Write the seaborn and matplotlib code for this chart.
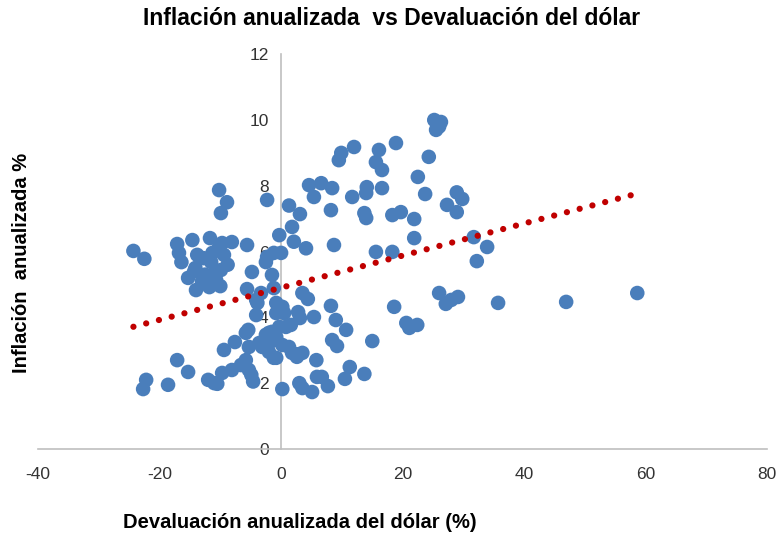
import numpy as np
import pandas as pd
import matplotlib
matplotlib.use("Agg")
import matplotlib.pyplot as plt
import seaborn as sns

# Devaluación anualizada del dólar (%)
devaluacion = [
    -24.3, -22.5, -17.1, -14.6, -11.7, -9.7, -8.1, -5.6, -16.8, -16.4,
    -14.1, -15.3, -14.0, -11.8, -10.7, -9.9, -11.3, -9.4, -10.2, -11.5,
    -4.8, -2.5, -1.2, -1.5, -5.6, -4.1, -2.3, -12.5, -13.0, -10.0,
    -12.8, -8.8, -13.8, -11.0, -14.3,
    -10.2, -8.9, -9.9, -2.3,
    -0.3, 1.8, 2.1, 4.1, 8.7, 1.3, 3.1, 0.0,
    4.6, 6.6, 5.4, 8.4, 8.2, 11.7, 14.1, 14.0, 16.6, 13.7,
    14.0, 18.3, 19.7, 21.9, 22.5, 23.7, 28.9, 29.8, 27.3, 28.9,
    21.9, 15.6, 18.3, 31.7, 33.9, 32.2, 9.5, 9.9, 12.0, 16.1,
    15.6, 16.6, 18.9, 24.3, 25.2, 26.3, 25.5, 26.0,
    26.0, 27.1, 28.0, 29.1, 35.7, 46.9, 58.6, 18.6, 20.6, 21.1, 22.4,
    3.5, 4.4, 8.2, 2.8, 3.1, 5.4, 9.0, 10.7, 8.4, 9.2,
    15.0, 3.5, 2.5, 5.8, 11.3, 10.5, 13.7, 0.2, 3.0, 3.5,
    5.1, 5.9, 6.7, 7.7,
    -3.3, -1.2, -0.8, 0.2, 0.5, -2.0, -0.8, 0.8, 1.6, -3.1,
    -2.0, 0.2, 1.3, -1.2, 1.8, 2.6,
    -17.1, -15.3, -22.2, -22.7, -18.6, -12.0, -10.5, -9.7, -8.1, -6.6,
    -5.3, -4.9, -5.8, -9.4, -7.6, -5.8, -5.4, -5.3, -3.6, -2.5,
    -1.5, -0.8, -0.3, -4.1, -3.9, -0.8, -2.0, -0.8, -11.0, -4.6,
]

# Inflación anualizada %
inflacion = [
    6.02, 5.78, 6.23, 6.35, 6.41, 6.26, 6.29, 6.20, 5.96, 5.68,
    5.50, 5.20, 4.83, 4.92, 5.14, 5.44, 5.96, 5.90, 6.14, 5.68,
    5.38, 5.68, 5.96, 5.29, 4.86, 4.53, 5.84, 5.30, 5.10, 4.95,
    5.80, 5.60, 5.90, 5.30, 5.40,
    7.87, 7.50, 7.17, 7.57,
    6.50, 6.75, 6.30, 6.10, 6.20, 7.40, 7.14, 5.96,
    8.02, 8.08, 7.66, 7.93, 7.26, 7.66, 7.96, 7.78, 7.93, 7.17,
    7.02, 7.11, 7.20, 6.99, 8.27, 7.75, 7.80, 7.60, 7.42, 7.20,
    6.41, 5.99, 5.99, 6.44, 6.14, 5.71, 8.78, 9.00, 9.18, 9.09,
    8.72, 8.48, 9.30, 8.88, 10.00, 9.94, 9.70, 9.80,
    4.74, 4.41, 4.53, 4.62, 4.44, 4.47, 4.74, 4.32, 3.83, 3.68, 3.77,
    4.74, 4.56, 4.35, 4.16, 3.98, 4.01, 3.92, 3.62, 3.31, 3.13,
    3.28, 2.92, 2.88, 2.70, 2.49, 2.13, 2.28, 1.82, 2.00, 1.85,
    1.73, 2.19, 2.19, 1.91,
    4.74, 4.89, 4.44, 4.32, 4.13, 3.53, 3.40, 3.71, 3.77, 3.10,
    3.22, 3.16, 3.10, 2.77, 2.92, 2.80,
    2.70, 2.34, 2.10, 1.82, 1.95, 2.10, 1.98, 2.31, 2.40, 2.55,
    2.40, 2.25, 2.70, 3.01, 3.25, 3.53, 3.62, 3.10, 3.22, 3.47,
    3.56, 3.31, 3.71, 4.07, 4.44, 4.13, 2.95, 2.77, 2.00, 2.05,
]

x_ticks = [-40, -20, 0, 20, 40, 60, 80]
y_ticks = [0, 2, 4, 6, 8, 10, 12]

df = pd.DataFrame({"dev": devaluacion, "inf": inflacion})

sns.set_theme(style="white")
plt.rcParams["font.family"] = ["Liberation Sans", "DejaVu Sans"]

fig = plt.figure(figsize=(7.83, 5.37), dpi=100)
ax = fig.add_axes([0.0485, 0.164, 0.9315, 0.735])

sns.scatterplot(data=df, x="dev", y="inf", ax=ax, s=110, color="#4A7EBB",
                edgecolor="none", linewidth=0, zorder=3, legend=False)

# linear trend line
slope, intercept = np.polyfit(df["dev"], df["inf"], 1)
tx = np.array([df["dev"].min(), df["dev"].max()])
ty = slope * tx + intercept
ax.plot(tx, ty, color="#C00000", linewidth=4.5, linestyle=(0, (0.01, 2.1)),
        dash_capstyle="round", solid_capstyle="round", zorder=4)

ax.set_xlim(-40, 80)
ax.set_ylim(0, 12)
ax.set_xticks(x_ticks)
ax.set_yticks(y_ticks)
ax.set_xticklabels([str(v) for v in x_ticks])
ax.set_yticklabels([str(v) for v in y_ticks])

for s in ["top", "right"]:
    ax.spines[s].set_visible(False)
ax.spines["left"].set_position(("data", 0))
ax.spines["bottom"].set_position(("data", 0))
ax.spines["left"].set_color("#BFBFBF")
ax.spines["bottom"].set_color("#BFBFBF")
ax.spines["left"].set_linewidth(1.2)
ax.spines["bottom"].set_linewidth(1.2)
ax.spines["left"].set_zorder(1)
ax.tick_params(axis="both", which="major", direction="out", length=5,
               color="#BFBFBF", labelsize=12.5, labelcolor="#333333", pad=4)
ax.tick_params(axis="x", pad=8)
ax.set_xlabel("")
ax.set_ylabel("")
ax.grid(False)

fig.text(0.5, 0.966, "Inflación anualizada  vs Devaluación del dólar",
         ha="center", va="center", fontsize=16.5, fontweight="bold", color="#000000")
fig.text(0.383, 0.027, "Devaluación anualizada del dólar (%)",
         ha="center", va="center", fontsize=14.5, fontweight="bold", color="#000000")
fig.text(0.028, 0.51, "Inflación  anualizada %", rotation=90,
         ha="center", va="center", fontsize=14.5, fontweight="bold", color="#000000")

fig.savefig("out.png", dpi=100)
